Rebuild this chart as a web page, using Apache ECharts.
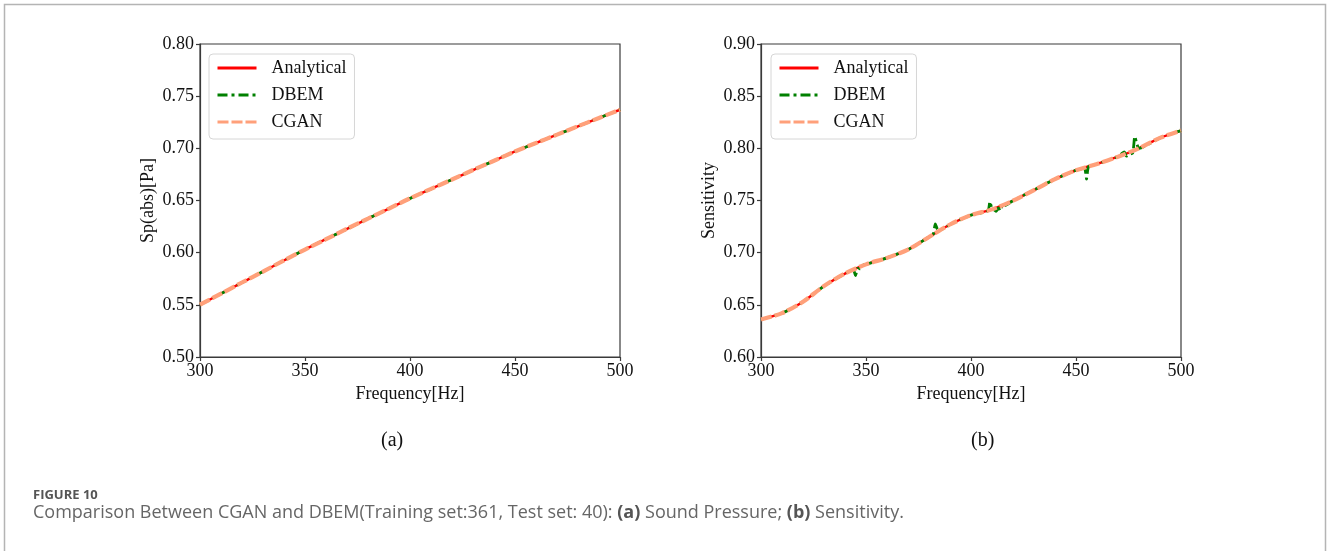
<!DOCTYPE html>
<html><head><meta charset="utf-8">
<script src="https://cdn.jsdelivr.net/npm/echarts@6/dist/echarts.min.js"></script>
<style>html,body{margin:0;padding:0;background:#fff}#c{width:1328px;height:551px}</style>
</head><body><div id="c"></div>
<script>
// ---- data ----
const seriesNames = ['Analytical', 'DBEM', 'CGAN'];
const freq = [300,310,320,330,340,350,360,370,380,390,400,410,420,430,440,450,460,470,480,490,500];
// (a) sound pressure |p| [Pa]
const spAnalytical = [0.5500,0.5607,0.5713,0.5819,0.5925,0.6030,0.6129,0.6228,0.6326,0.6423,0.6520,0.6611,0.6701,0.6791,0.6881,0.6970,0.7051,0.7131,0.7211,0.7291,0.7370];
const spDBEM       = [0.5500,0.5607,0.5713,0.5819,0.5925,0.6030,0.6129,0.6228,0.6326,0.6423,0.6520,0.6611,0.6701,0.6791,0.6881,0.6970,0.7051,0.7131,0.7211,0.7291,0.7370];
const spCGAN       = [0.5501,0.5607,0.5714,0.5819,0.5926,0.6030,0.6129,0.6229,0.6326,0.6423,0.6521,0.6611,0.6701,0.6792,0.6881,0.6970,0.7051,0.7131,0.7212,0.7291,0.7370];
// (b) sensitivity
const sensAnalytical = [0.636,0.642,0.653,0.668,0.680,0.6888,0.695,0.703,0.715,0.727,0.736,0.7415,0.7498,0.760,0.7705,0.779,0.785,0.792,0.800,0.810,0.817];
const sensCGAN       = [0.636,0.642,0.653,0.668,0.680,0.6888,0.695,0.703,0.715,0.727,0.736,0.7415,0.7498,0.760,0.7705,0.779,0.785,0.792,0.800,0.810,0.817];
const sensDBEMFreq = [300,310,320,330,340,344,345,346,347,348,349,350,360,370,380,382,383,384,385,390,400,408,409,410,411,412,413,414,415,416,420,430,440,450,454,455,456,460,470,473,474,475,477,478,479,480,490,500];
const sensDBEM     = [0.636,0.642,0.653,0.668,0.680,0.6835,0.678,0.685,0.6845,0.686,0.6885,0.6888,0.695,0.703,0.715,0.7175,0.7275,0.7225,0.7215,0.727,0.736,0.740,0.749,0.742,0.741,0.7395,0.743,0.740,0.7465,0.745,0.7498,0.760,0.7705,0.779,0.781,0.7705,0.7825,0.785,0.792,0.7965,0.7925,0.794,0.7955,0.8115,0.804,0.800,0.810,0.817];
const xTicks = {min: 300, max: 500, step: 50};
const yTicksA = {min: 0.50, max: 0.80, step: 0.05};
const yTicksB = {min: 0.60, max: 0.90, step: 0.05};

// ---- chart ----
const serif = 'Liberation Serif';
const axisColor = '#3a3a3a';
const pairs = (xs, ys) => xs.map((x, i) => [x, ys[i]]);

function xAxis(g) {
  return {
    gridIndex: g, type: 'value', min: xTicks.min, max: xTicks.max, interval: xTicks.step,
    axisLine: {show: true, lineStyle: {color: axisColor, width: 1.2}},
    axisTick: {show: true, length: 4, lineStyle: {color: axisColor, width: 1.2}},
    axisLabel: {fontFamily: serif, fontSize: 18, color: '#111', margin: 5},
    splitLine: {show: false},
    name: 'Frequency[Hz]', nameLocation: 'middle', nameGap: 27,
    nameTextStyle: {fontFamily: serif, fontSize: 18, color: '#111'}
  };
}
function yAxis(g, t, name, gap) {
  return {
    gridIndex: g, type: 'value', min: t.min, max: t.max, interval: t.step,
    axisLine: {show: true, lineStyle: {color: axisColor, width: 1.2}},
    axisTick: {show: true, length: 4, lineStyle: {color: axisColor, width: 1.2}},
    axisLabel: {fontFamily: serif, fontSize: 18, color: '#111', margin: 6, formatter: v => v.toFixed(2)},
    splitLine: {show: false},
    name: name, nameLocation: 'middle', nameGap: gap,
    nameTextStyle: {fontFamily: serif, fontSize: 18, color: '#111'}
  };
}
function legend(left) {
  return {
    left: left, top: 54, orient: 'vertical', data: seriesNames,
    itemWidth: 39, itemHeight: 14, itemGap: 9,
    itemStyle: {opacity: 0, color: 'rgba(0,0,0,0)', borderWidth: 0},
    lineStyle: {width: 3},
    textStyle: {fontFamily: serif, fontSize: 18, color: '#111', lineHeight: 18, padding: [0, 0, 0, 10]},
    borderColor: '#d6d6d6', borderWidth: 1, borderRadius: 4,
    padding: [5, 8, 8, 7], backgroundColor: 'rgba(255,255,255,0.85)'
  };
}
function lines(g, anaX, anaY, dbX, dbY, cgX, cgY) {
  return [
    {name: 'Analytical', type: 'line', xAxisIndex: g, yAxisIndex: g, data: pairs(anaX, anaY),
     showSymbol: false, symbol: 'none', smooth: 0.3, color: '#ff0000',
     lineStyle: {color: '#ff0000', width: 2.5, type: 'solid'}, z: 2},
    {name: 'DBEM', type: 'line', xAxisIndex: g, yAxisIndex: g, data: pairs(dbX, dbY),
     showSymbol: false, symbol: 'none', smooth: 0.2, color: '#008000',
     lineStyle: {color: '#008000', width: 2.8, type: [10, 4, 3, 4]}, z: 3},
    {name: 'CGAN', type: 'line', xAxisIndex: g, yAxisIndex: g, data: pairs(cgX, cgY),
     showSymbol: false, symbol: 'none', smooth: 0.3, color: '#ffa07a',
     lineStyle: {color: '#ffa07a', width: 4.2, type: [11, 3]}, z: 4}
  ];
}

const chart = echarts.init(document.getElementById('c'), null, {renderer: 'canvas'});
chart.setOption({
  animation: false,
  backgroundColor: '#fff',
  grid: [
    {left: 200, top: 44, width: 420, height: 313, show: true, borderColor: axisColor, borderWidth: 1.2, backgroundColor: 'transparent'},
    {left: 761, top: 44, width: 420, height: 313, show: true, borderColor: axisColor, borderWidth: 1.2, backgroundColor: 'transparent'}
  ],
  xAxis: [xAxis(0), xAxis(1)],
  yAxis: [yAxis(0, yTicksA, 'Sp(abs)[Pa]', 43), yAxis(1, yTicksB, 'Sensitivity', 43)],
  legend: [legend(209), legend(771)],
  series: [].concat(
    lines(0, freq, spAnalytical, freq, spDBEM, freq, spCGAN),
    lines(1, freq, sensAnalytical, sensDBEMFreq, sensDBEM, freq, sensCGAN)
  ),
  graphic: [
    {type: 'polyline', shape: {points: [[4.5, 551], [4.5, 4.5], [1325.5, 4.5], [1325.5, 551]]},
     style: {stroke: '#b4b4b4', lineWidth: 1.5, fill: null}, silent: true},
    {type: 'text', left: 381, top: 431, style: {text: '(a)', font: '20px "Liberation Serif"', fill: '#111'}},
    {type: 'text', left: 971, top: 431, style: {text: '(b)', font: '20px "Liberation Serif"', fill: '#111'}},
    {type: 'text', left: 33, top: 489, style: {text: 'FIGURE 10', font: 'bold 13px "Open Sans"', fill: '#555'}},
    {type: 'text', left: 33, top: 504, style: {
      text: '{n|Comparison Between CGAN and DBEM(Training set:361, Test set: 40): }{b|(a)}{n| Sound Pressure; }{b|(b)}{n| Sensitivity.}',
      rich: {
        n: {fontFamily: 'Open Sans', fontSize: 18, fill: '#666', color: '#666'},
        b: {fontFamily: 'Open Sans', fontSize: 18, fontWeight: 'bold', fill: '#555', color: '#555'}
      }
    }}
  ]
});
</script>
</body></html>
